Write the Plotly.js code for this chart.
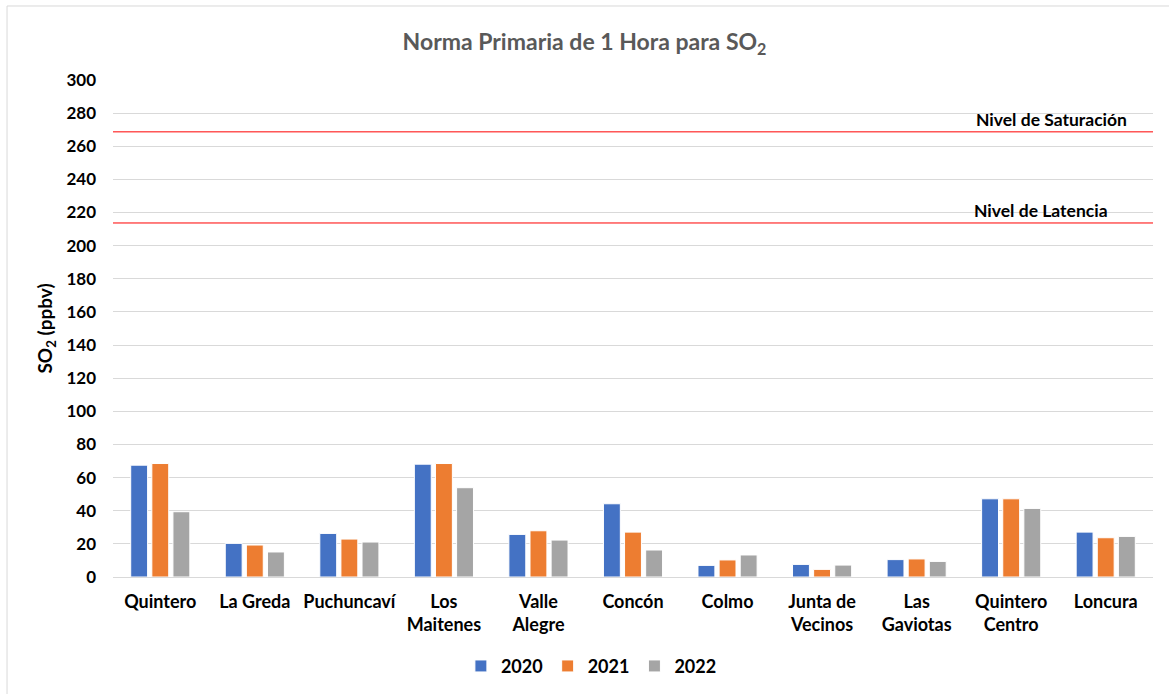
<!DOCTYPE html>
<html>
<head>
<meta charset="utf-8">
<script src="https://cdn.plot.ly/plotly-3.0.1.min.js"></script>
<style>
html,body{margin:0;padding:0;background:#fff;}
#chart{width:1169px;height:694px;}
</style>
</head>
<body>
<div id="chart"></div>
<script>
const stations = ["Quintero","La Greda","Puchuncaví","Los<br>Maitenes","Valle<br>Alegre","Concón","Colmo","Junta de<br>Vecinos","Las<br>Gaviotas","Quintero<br>Centro","Loncura"];
const years = ["2020","2021","2022"];
const values2020 = [67.5, 20.3, 26.3, 68.1, 25.7, 44.2, 7.0, 7.6, 10.5, 47.2, 27.1];
const values2021 = [68.5, 19.3, 22.9, 68.5, 27.9, 27.1, 10.3, 4.6, 10.9, 47.2, 23.7];
const values2022 = [39.4, 15.1, 21.1, 53.9, 22.3, 16.3, 13.3, 7.2, 9.4, 41.4, 24.5];
const saturationLevel = 268.7;
const latencyLevel = 213.7;
const levelLabels = ["Nivel de Saturación","Nivel de Latencia"];
const yTicks = [0,20,40,60,80,100,120,140,160,180,200,220,240,260,280,300];

const colors = ["#4472C4","#ED7D31","#A5A5A5"];
const series = [values2020, values2021, values2022];
const FONT = "Lato, 'Liberation Sans', sans-serif";

const traces = series.map((vals, i) => ({
  type: "bar",
  name: years[i],
  x: stations,
  y: vals,
  marker: {color: colors[i], line: {color: "#ffffff", width: 1}},
  hoverinfo: "x+y+name"
}));

const layout = {
  width: 1169,
  height: 694,
  margin: {l: 113, r: 16, t: 80, b: 117},
  paper_bgcolor: "#ffffff",
  plot_bgcolor: "#ffffff",
  font: {family: FONT, color: "#000000", size: 16},
  title: {
    text: "<b>Norma Primaria de 1 Hora para SO<sub>2</sub></b>",
    font: {family: FONT, size: 23, color: "#595959"},
    x: 0.5, xanchor: "center", y: 0.94, yanchor: "middle"
  },
  barmode: "group",
  bargap: 0.33,
  bargroupgap: 0.2,
  showlegend: true,
  legend: {
    orientation: "h",
    xref: "paper", yref: "container",
    x: 0.46, xanchor: "center",
    y: 0.04, yanchor: "middle",
    font: {family: FONT, size: 18, color: "#000000", weight: "bold"},
    itemwidth: 30,
    traceorder: "normal"
  },
  xaxis: {
    type: "category",
    tickfont: {family: FONT, size: 18, color: "#000000", weight: "bold"},
    showgrid: false,
    showline: true,
    linecolor: "#D9D9D9",
    linewidth: 1,
    ticks: "",
    ticklabelstandoff: 8,
    automargin: false,
    fixedrange: true
  },
  yaxis: {
    range: [0, 300],
    tickvals: yTicks,
    ticktext: yTicks.map(String),
    tickfont: {family: FONT, size: 17, color: "#000000", weight: "bold"},
    showgrid: true,
    gridcolor: "#D9D9D9",
    gridwidth: 1,
    zeroline: false,
    showline: false,
    ticks: "",
    ticklabelstandoff: 16,
    automargin: false,
    title: {
      text: "<b>SO<sub>2</sub> (ppbv)</b>",
      font: {family: FONT, size: 19, color: "#000000"},
      standoff: 8
    },
    fixedrange: true
  },
  shapes: [
    {type: "line", xref: "paper", yref: "y", x0: 0, x1: 1, y0: saturationLevel, y1: saturationLevel,
     line: {color: "#FF0000", width: 1}},
    {type: "line", xref: "paper", yref: "y", x0: 0, x1: 1, y0: latencyLevel, y1: latencyLevel,
     line: {color: "#FF0000", width: 1}},
    {type: "rect", xref: "paper", yref: "paper", x0: -0.1019, x1: 1.03, y0: -0.26, y1: 1.1489,
     line: {color: "#D9D9D9", width: 1}, fillcolor: "rgba(0,0,0,0)", layer: "below"}
  ],
  annotations: [
    {xref: "paper", yref: "y", x: 0.902, y: saturationLevel, yshift: 12, text: "<b>" + levelLabels[0] + "</b>",
     showarrow: false, xanchor: "center", yanchor: "middle", font: {family: FONT, size: 17.5, color: "#000000"}},
    {xref: "paper", yref: "y", x: 0.892, y: latencyLevel, yshift: 12, text: "<b>" + levelLabels[1] + "</b>",
     showarrow: false, xanchor: "center", yanchor: "middle", font: {family: FONT, size: 17.5, color: "#000000"}}
  ]
};

Plotly.newPlot("chart", traces, layout, {displayModeBar: false, staticPlot: true});
</script>
</body>
</html>
